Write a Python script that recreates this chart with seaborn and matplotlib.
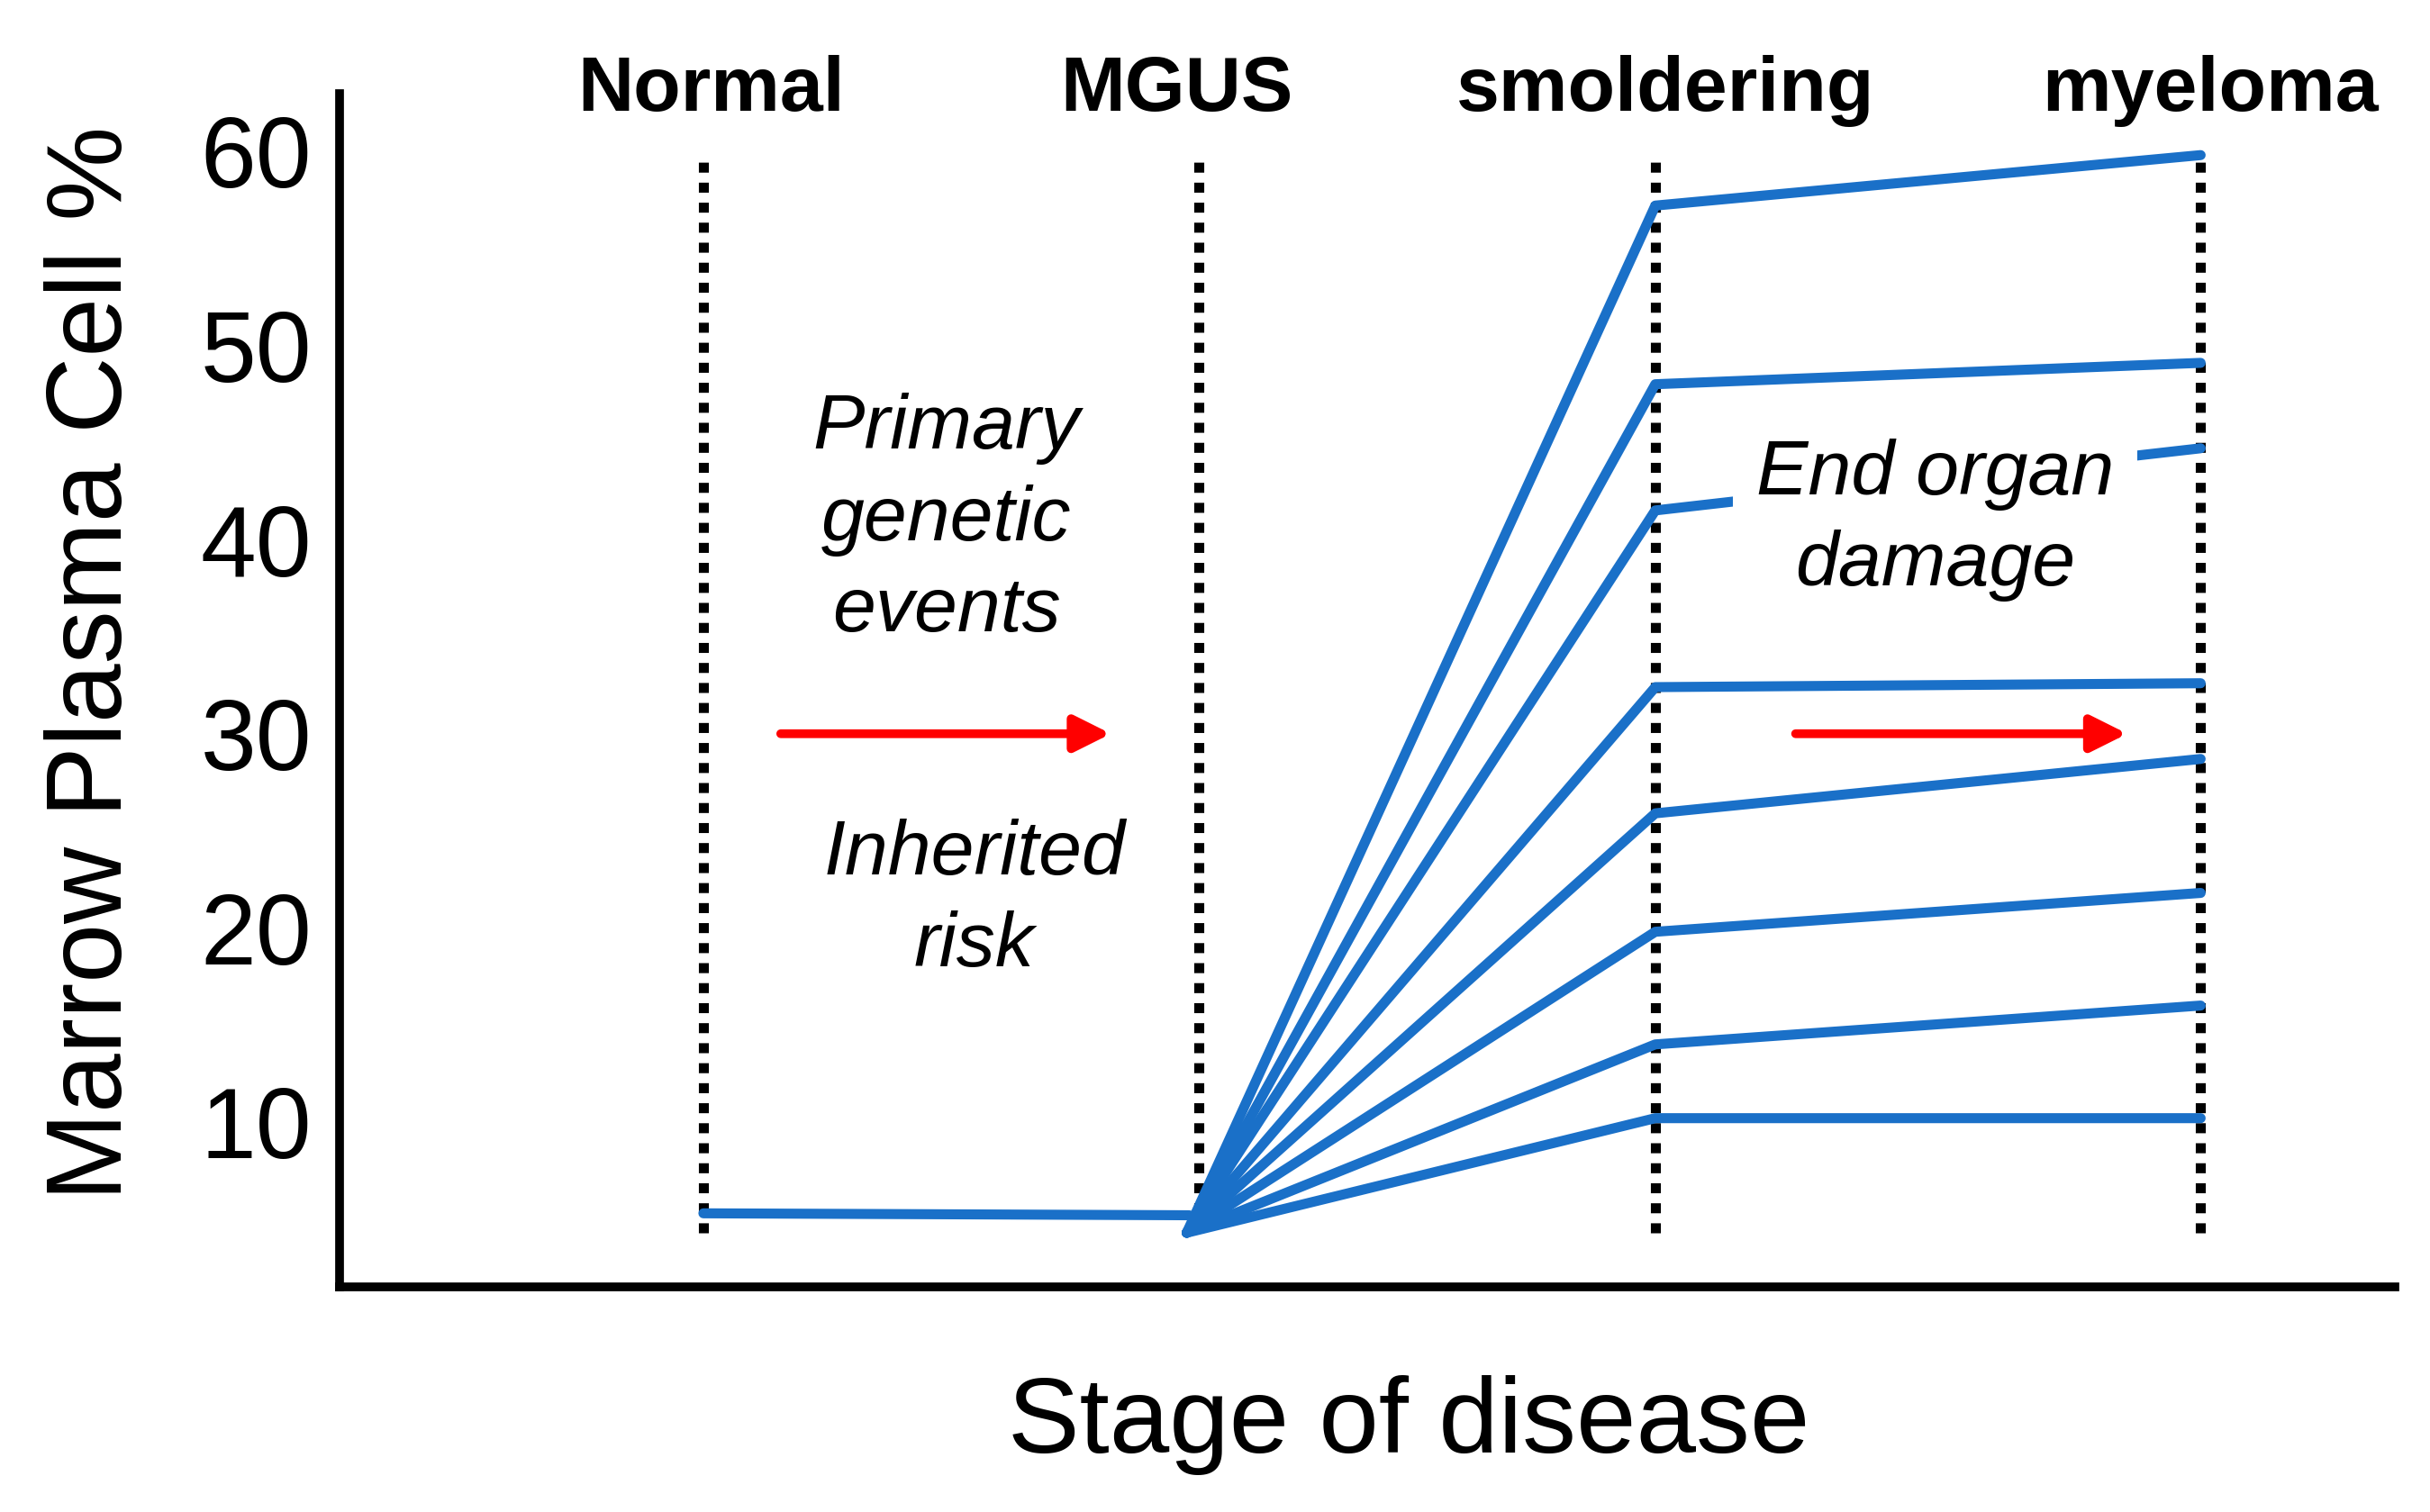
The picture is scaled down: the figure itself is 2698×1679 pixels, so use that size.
import numpy as np
import pandas as pd
import matplotlib
matplotlib.use("Agg")
import matplotlib.pyplot as plt
import seaborn as sns

# stages and where they sit on the x axis
stages = ["Normal", "MGUS", "smoldering", "myeloma"]
stage_x = [0.0, 1.0, 1.92, 3.02]
stage_label_x = [0.015, 0.955, 1.94, 3.04]

# plasma cell %
normal_x = [0.0, 0.98]
normal_vals = [5.3, 5.2]
fan_start_x = 0.975
fan_start = 4.3
smoldering_vals = [57.2, 48.0, 41.5, 32.4, 25.9, 19.8, 14.0, 10.2]
myeloma_vals = [59.8, 49.1, 44.7, 32.6, 28.7, 21.8, 16.0, 10.2]

yticks = [10, 20, 30, 40, 50, 60]

blue = "#1A70C8"

rows = []
for i, (s, m) in enumerate(zip(smoldering_vals, myeloma_vals)):
    for x, v in zip([fan_start_x, stage_x[2], stage_x[3]], [fan_start, s, m]):
        rows.append({"path": i, "x": x, "pct": v})
for x, v in zip(normal_x, normal_vals):
    rows.append({"path": 99, "x": x, "pct": v})
df = pd.DataFrame(rows)

sns.set_style("white")
plt.rcParams["font.family"] = ["Liberation Sans", "DejaVu Sans"]
plt.rcParams["text.color"] = "black"
plt.rcParams["axes.labelcolor"] = "black"
plt.rcParams["ytick.color"] = "black"

fig = plt.figure(figsize=(26.98, 16.79), dpi=100)
ax = fig.add_axes([0.1397, 0.149, 0.846, 0.789])

# dotted stage lines
for x in stage_x:
    ax.plot([x, x], [4.3, 59.8], color="black", lw=8,
            linestyle=(0, (1.0, 1.0)), zorder=1)

sns.lineplot(data=df, x="x", y="pct", units="path", estimator=None,
             color=blue, lw=8, ax=ax, zorder=2, sort=False)

ax.set_xlim(-0.734, 3.4125)
ax.set_ylim(1.52, 62.96)

for sp in ["top", "right"]:
    ax.spines[sp].set_visible(False)
for sp in ["left", "bottom"]:
    ax.spines[sp].set_linewidth(7)
    ax.spines[sp].set_color("black")

ax.set_xticks([])
ax.set_yticks(yticks)
ax.set_yticklabels([str(t) for t in yticks], fontsize=80)
ax.tick_params(axis="y", length=0, pad=22)

ax.set_xlabel("Stage of disease", fontsize=86)
ax.set_ylabel("Marrow Plasma Cell %", fontsize=85)
ax.yaxis.set_label_coords(-0.095, 0.523)
ax.xaxis.set_label_coords(0.52, -0.074)

for x, name in zip(stage_label_x, stages):
    ax.text(x, 63.1, name, ha="center", va="center", fontsize=62,
            fontweight="bold", clip_on=False)

ax.text(0.49, 41.0, "Primary\ngenetic\nevents", ha="center", va="center",
        fontsize=62, style="italic", linespacing=1.35)
ax.text(0.547, 21.4, "Inherited\nrisk", ha="center", va="center",
        fontsize=62, style="italic", linespacing=1.35)
ax.text(2.484, 41.0, "End organ\ndamage", ha="center", va="center",
        fontsize=62, style="italic", zorder=3, linespacing=1.35,
        bbox=dict(boxstyle="square,pad=0.3", fc="white", ec="none"))

arrow = dict(arrowstyle="-|>", lw=7, color="red", mutation_scale=60,
             shrinkA=0, shrinkB=0)
ax.annotate("", xy=(0.822, 30), xytext=(0.156, 30), arrowprops=arrow)
ax.annotate("", xy=(2.872, 30), xytext=(2.203, 30), arrowprops=arrow)

fig.savefig("out.png", dpi=100)
